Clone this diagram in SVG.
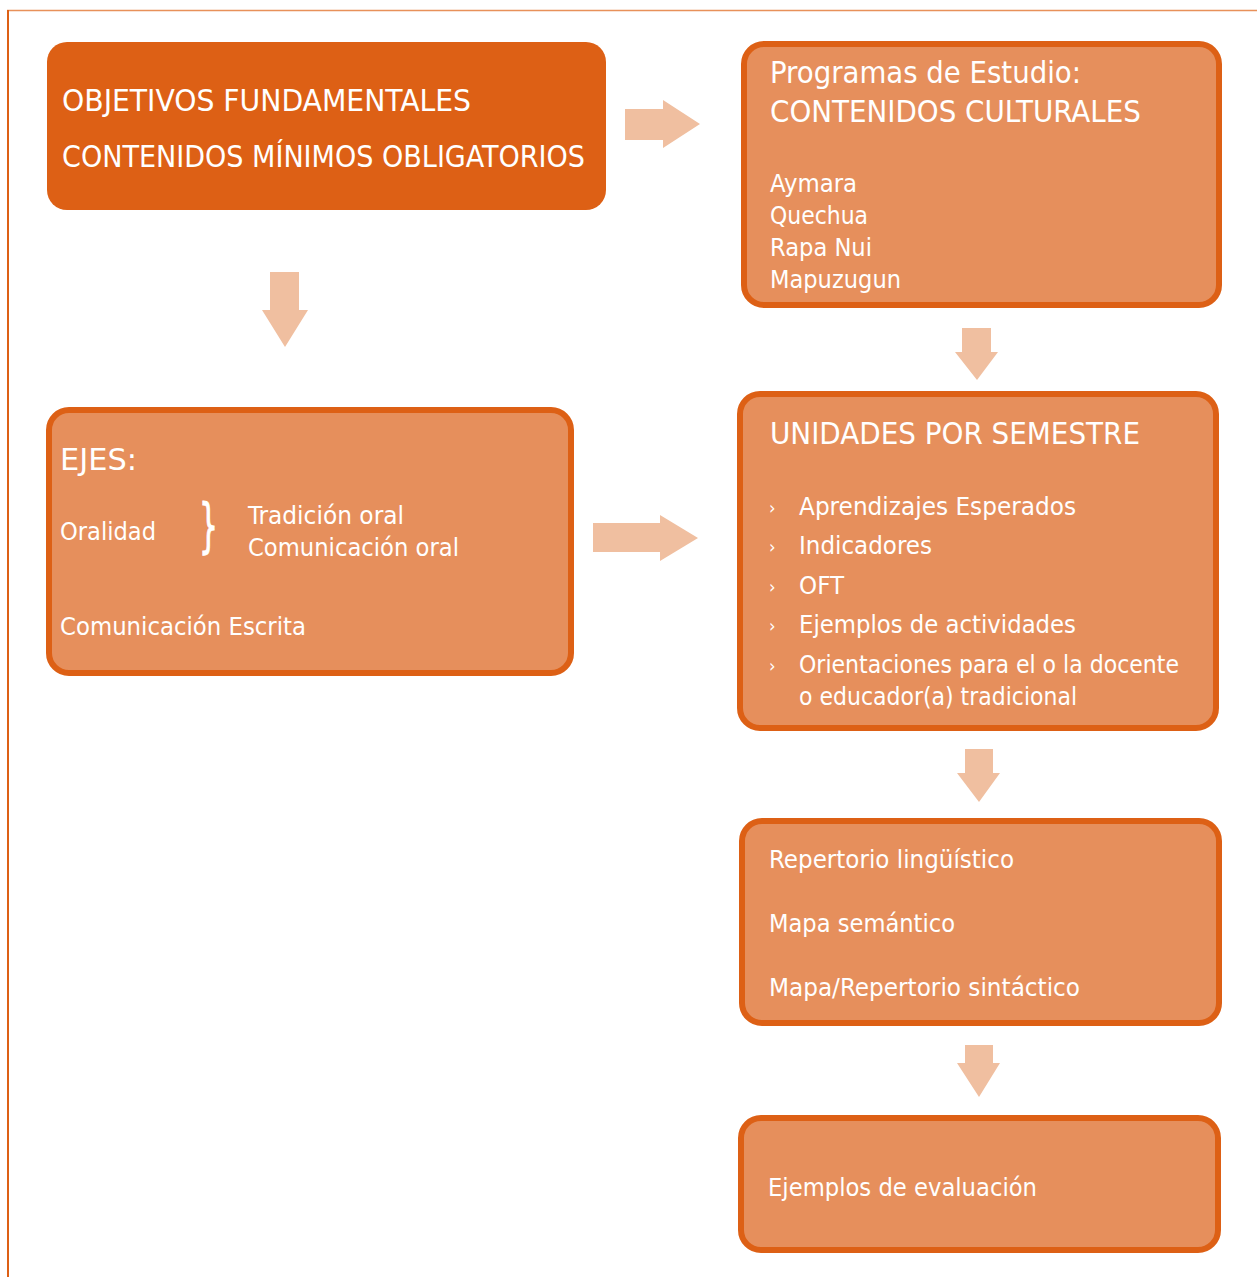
<svg xmlns="http://www.w3.org/2000/svg" width="1257" height="1277" viewBox="0 0 1257 1277">
<style>
.frame-top{stroke:#E8915A;stroke-width:1.5;fill:none}
.frame-left{stroke:#DD6015;stroke-width:2;fill:none}
.dark{fill:#DD6015}
.box{fill:#E68F5C;stroke:#DD6015;stroke-width:6}
.arrow{fill:#F0BFA0}
text{font-family:"DejaVu Sans Condensed","DejaVu Sans","Liberation Sans",sans-serif;fill:#FFFFFF}
.t{font-size:30px}
.tt{font-size:31px}
.b{font-size:24px}
.bul{font-size:18px}
</style>
<rect width="1257" height="1277" fill="#FFFFFF"/>
<line class="frame-top" x1="7" y1="10.5" x2="1257" y2="10.5"/>
<line class="frame-left" x1="8" y1="10" x2="8" y2="1277"/>

<g id="connectors">
<polygon class="arrow" points="625,109 663,109 663,100 700,124 663,148 663,140 625,140"/>
<polygon class="arrow" points="270,272 299,272 299,310 308,310 285,347 262,310 270,310"/>
<polygon class="arrow" points="593,523 660,523 660,515 698,538 660,561 660,552 593,552"/>
<polygon class="arrow" points="962,328 991,328 991,352 998,352 977,380 955,352 962,352"/>
<polygon class="arrow" points="965,749 993,749 993,773 1000,773 979,802 957,773 965,773"/>
<polygon class="arrow" points="965,1045 993,1045 993,1063 1000,1063 979,1097 957,1063 965,1063"/>
</g>

<g id="node-objetivos">
<rect class="dark" x="47" y="42" width="559" height="168" rx="20"/>
<text class="tt" x="62" y="111" textLength="409" lengthAdjust="spacingAndGlyphs">OBJETIVOS FUNDAMENTALES</text>
<text class="tt" x="62" y="167" textLength="523" lengthAdjust="spacingAndGlyphs">CONTENIDOS MÍNIMOS OBLIGATORIOS</text>
</g>

<g id="node-programas">
<rect class="box" x="744" y="44" width="475" height="261" rx="20"/>
<text class="t" x="770" y="83" textLength="311" lengthAdjust="spacingAndGlyphs">Programas de Estudio:</text>
<text class="t" x="770" y="122" textLength="371" lengthAdjust="spacingAndGlyphs">CONTENIDOS CULTURALES</text>
<text class="b" x="770" y="192" textLength="87" lengthAdjust="spacingAndGlyphs">Aymara</text>
<text class="b" x="770" y="224" textLength="98" lengthAdjust="spacingAndGlyphs">Quechua</text>
<text class="b" x="770" y="256" textLength="102" lengthAdjust="spacingAndGlyphs">Rapa Nui</text>
<text class="b" x="770" y="288" textLength="131" lengthAdjust="spacingAndGlyphs">Mapuzugun</text>
</g>

<g id="node-ejes">
<rect class="box" x="49" y="410" width="522" height="263" rx="20"/>
<text class="t" x="60" y="470" textLength="77" lengthAdjust="spacingAndGlyphs">EJES:</text>
<text class="b" x="60" y="540" textLength="96" lengthAdjust="spacingAndGlyphs">Oralidad</text>
<text x="199" y="546" style="font-size:58px;stroke:#FFFFFF;stroke-width:1" textLength="19" lengthAdjust="spacingAndGlyphs">}</text>
<text class="b" x="248" y="524" textLength="156" lengthAdjust="spacingAndGlyphs">Tradición oral</text>
<text class="b" x="248" y="556" textLength="211" lengthAdjust="spacingAndGlyphs">Comunicación oral</text>
<text class="b" x="60" y="635" textLength="246" lengthAdjust="spacingAndGlyphs">Comunicación Escrita</text>
</g>

<g id="node-unidades">
<rect class="box" x="740" y="394" width="476" height="334" rx="20"/>
<text class="t" x="770" y="444" textLength="370" lengthAdjust="spacingAndGlyphs">UNIDADES POR SEMESTRE</text>
<text class="bul" x="769" y="514">›</text>
<text class="b" x="799" y="515" textLength="277" lengthAdjust="spacingAndGlyphs">Aprendizajes Esperados</text>
<text class="bul" x="769" y="553">›</text>
<text class="b" x="799" y="554" textLength="133" lengthAdjust="spacingAndGlyphs">Indicadores</text>
<text class="bul" x="769" y="593">›</text>
<text class="b" x="799" y="594" textLength="45" lengthAdjust="spacingAndGlyphs">OFT</text>
<text class="bul" x="769" y="632">›</text>
<text class="b" x="799" y="633" textLength="277" lengthAdjust="spacingAndGlyphs">Ejemplos de actividades</text>
<text class="bul" x="769" y="672">›</text>
<text class="b" x="799" y="673" textLength="380" lengthAdjust="spacingAndGlyphs">Orientaciones para el o la docente</text>
<text class="b" x="799" y="705" textLength="278" lengthAdjust="spacingAndGlyphs">o educador(a) tradicional</text>
</g>

<g id="node-repertorio">
<rect class="box" x="742" y="821" width="477" height="202" rx="20"/>
<text class="b" x="769" y="868" textLength="245" lengthAdjust="spacingAndGlyphs">Repertorio lingüístico</text>
<text class="b" x="769" y="932" textLength="186" lengthAdjust="spacingAndGlyphs">Mapa semántico</text>
<text class="b" x="769" y="996" textLength="311" lengthAdjust="spacingAndGlyphs">Mapa/Repertorio sintáctico</text>
</g>

<g id="node-evaluacion">
<rect class="box" x="741" y="1118" width="477" height="132" rx="20"/>
<text class="b" x="768" y="1196" textLength="269" lengthAdjust="spacingAndGlyphs">Ejemplos de evaluación</text>
</g>
</svg>
